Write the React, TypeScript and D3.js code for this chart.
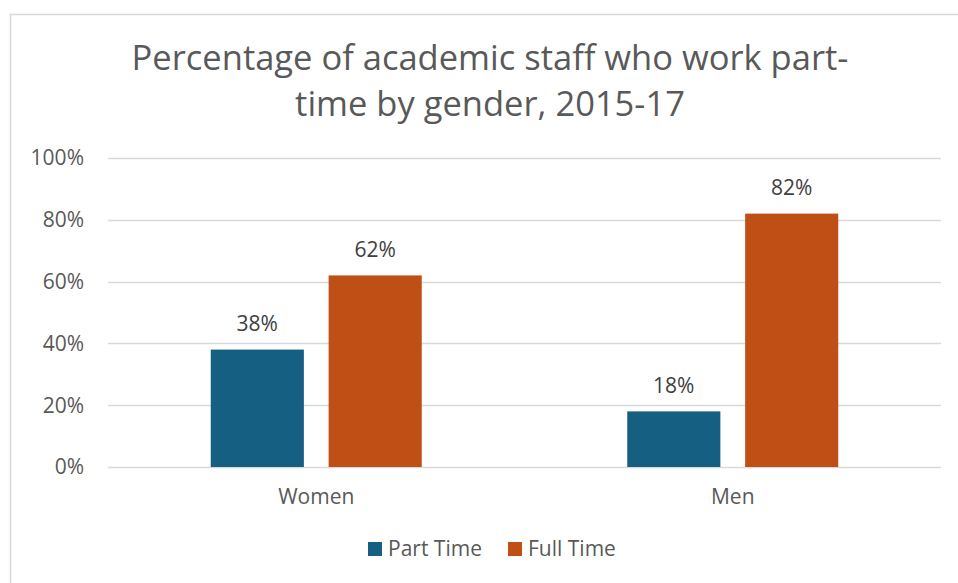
import React from "react";
import * as d3 from "d3";

const categories = ["Women", "Men"];
const seriesNames = ["Part Time", "Full Time"];
const partTime = [0.38, 0.18];
const fullTime = [0.62, 0.82];
const yTicks = [0, 0.2, 0.4, 0.6, 0.8, 1.0];
const titleLines = ["Percentage of academic staff who work part-", "time by gender, 2015-17"];
const colors = ["#156082", "#C04F15"];

const W = 958;
const H = 583;
const plot = { left: 108, right: 941, top: 158, bottom: 467 };
const FONT = "'Open Sans', 'Liberation Sans', sans-serif";
const FS = 21;

export default function App() {
  const x0 = d3.scaleBand().domain(categories).range([plot.left, plot.right]).paddingInner(0).paddingOuter(0);
  const y = d3.scaleLinear().domain([0, 1]).range([plot.bottom, plot.top]);
  const groupW = 211;
  const x1 = d3.scaleBand().domain(seriesNames).range([0, groupW]).paddingInner(0.21).paddingOuter(0);
  const seriesVals = [partTime, fullTime];
  const fmt = d3.format(".0%");

  return (
    <svg width={W} height={H} style={{ position: "absolute", left: 0, top: 0 }}>
      <rect x={0} y={0} width={W} height={H} fill="#fff" />
      <rect x={10.5} y={14.5} width={1000} height={700} fill="#fff" stroke="#D9D9D9" strokeWidth={1.5} />
      {titleLines.map((t, i) => (
        <text key={i} x={490} y={70 + i * 46} textAnchor="middle" fontFamily={FONT} fontSize={34.5} fill="#595959">
          {t}
        </text>
      ))}
      {yTicks.map((t) => (
        <g key={t}>
          <line x1={plot.left} x2={plot.right} y1={Math.round(y(t)) + 0.5} y2={Math.round(y(t)) + 0.5} stroke="#D9D9D9" strokeWidth={1.5} />
          <text x={84} y={y(t)} dy="0.35em" textAnchor="end" fontFamily={FONT} fontSize={FS} fill="#595959">
            {fmt(t)}
          </text>
        </g>
      ))}
      {categories.map((c, ci) => {
        const gx = (x0(c) as number) + (x0.bandwidth() - groupW) / 2;
        return (
          <g key={c}>
            {seriesNames.map((s, si) => {
              const v = seriesVals[si][ci];
              const bx = gx + (x1(s) as number);
              return (
                <g key={s}>
                  <rect x={bx} y={y(v)} width={x1.bandwidth()} height={y(0) - y(v)} fill={colors[si]} />
                  <text x={bx + x1.bandwidth() / 2} y={y(v) - 25.5} dy="0.35em" textAnchor="middle" fontFamily={FONT} fontSize={FS} fill="#404040">
                    {fmt(v)}
                  </text>
                </g>
              );
            })}
            <text x={(x0(c) as number) + x0.bandwidth() / 2} y={497} dy="0.35em" textAnchor="middle" fontFamily={FONT} fontSize={FS} fill="#595959">
              {c}
            </text>
          </g>
        );
      })}
      {seriesNames.map((s, i) => {
        const lx = [368, 508][i];
        return (
          <g key={s}>
            <rect x={lx} y={542} width={14} height={14} fill={colors[i]} />
            <text x={lx + 20} y={549} dy="0.35em" fontFamily={FONT} fontSize={FS} fill="#595959">
              {s}
            </text>
          </g>
        );
      })}
    </svg>
  );
}
